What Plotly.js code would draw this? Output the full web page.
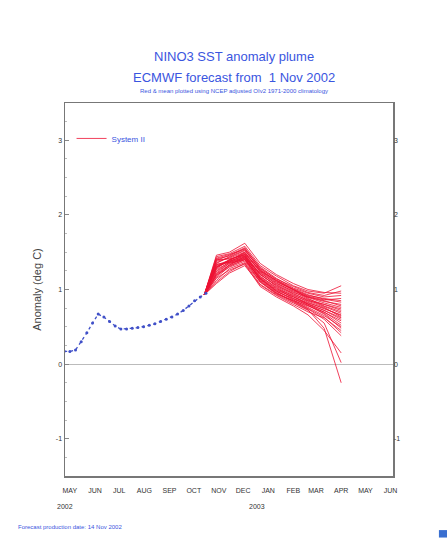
<!DOCTYPE html>
<html>
<head>
<meta charset="utf-8">
<script src="https://cdn.plot.ly/plotly-3.0.1.min.js"></script>
<style>
html,body{margin:0;padding:0;background:#fff;}
#chart{width:447px;height:538px;}
</style>
</head>
<body>
<div id="chart"></div>
<script>
// Observed anomalies (weekly), deg C
const obsDates = ['2002-05-08','2002-05-15','2002-05-22','2002-05-29','2002-06-05','2002-06-12','2002-06-19','2002-06-26',
  '2002-07-03','2002-07-10','2002-07-17','2002-07-24','2002-07-31','2002-08-07','2002-08-14','2002-08-21','2002-08-28',
  '2002-09-04','2002-09-11','2002-09-18','2002-09-25','2002-10-02','2002-10-09','2002-10-16','2002-10-23','2002-10-30'];
const obsValues = [0.17,0.17,0.19,0.30,0.42,0.55,0.67,0.63,
  0.57,0.51,0.47,0.47,0.48,0.49,0.50,0.52,0.54,
  0.57,0.60,0.63,0.67,0.72,0.78,0.85,0.90,0.95];

// Forecast plume (System II members)
const fcStartDate = '2002-10-28';
const fcStartValue = 0.93;
const fcDates = ['2002-11-12','2002-11-28','2002-12-17','2003-01-05','2003-01-25','2003-02-15','2003-03-05','2003-03-25','2003-04-15'];
const member01 = [1.30,1.38,1.45,1.20,1.05,0.95,0.85,0.80,0.72];
const member02 = [1.22,1.35,1.40,1.15,1.00,0.90,0.82,0.75,0.65];
const member03 = [1.38,1.42,1.50,1.25,1.10,1.00,0.92,0.88,0.85];
const member04 = [1.12,1.28,1.36,1.10,0.95,0.85,0.78,0.70,0.55];
const member05 = [1.44,1.48,1.58,1.32,1.18,1.05,0.98,0.95,1.05];
const member06 = [1.28,1.40,1.47,1.18,1.02,0.88,0.80,0.72,0.60];
const member07 = [1.34,1.36,1.42,1.22,1.08,0.98,0.90,0.85,0.78];
const member08 = [1.08,1.22,1.32,1.06,0.92,0.80,0.70,0.62,0.45];
const member09 = [1.41,1.45,1.55,1.30,1.15,1.02,0.95,0.90,0.92];
const member10 = [1.18,1.33,1.44,1.15,0.98,0.86,0.76,0.65,0.50];
const member11 = [1.30,1.40,1.48,1.25,1.12,1.00,0.88,0.78,0.70];
const member12 = [1.25,1.37,1.43,1.12,0.96,0.84,0.74,0.60,0.38];
const member13 = [1.36,1.43,1.52,1.28,1.14,1.04,0.96,0.92,0.98];
const member14 = [1.20,1.32,1.40,1.14,0.99,0.90,0.80,0.70,0.58];
const member15 = [1.40,1.41,1.46,1.20,1.06,0.94,0.86,0.78,0.68];
const member16 = [1.15,1.26,1.34,1.04,0.90,0.78,0.66,0.45,0.15];
const member17 = [1.29,1.39,1.50,1.24,1.09,0.97,0.87,0.80,0.74];
const member18 = [1.32,1.38,1.45,1.16,1.01,0.92,0.84,0.76,0.63];
const member19 = [1.46,1.50,1.62,1.35,1.20,1.08,1.00,0.96,0.95];
const member20 = [1.24,1.35,1.41,1.13,0.97,0.88,0.78,0.68,0.52];
const member21 = [1.35,1.44,1.53,1.27,1.11,0.99,0.90,0.84,0.80];
const member22 = [1.10,1.24,1.35,1.07,0.93,0.82,0.72,0.55,0.02];
const member23 = [1.31,1.37,1.47,1.21,1.04,0.93,0.83,0.74,0.66];
const member24 = [1.19,1.30,1.38,1.11,0.95,0.83,0.73,0.48,-0.25];
const member25 = [1.39,1.46,1.56,1.29,1.13,1.01,0.93,0.87,0.83];
const member26 = [1.27,1.36,1.44,1.17,1.03,0.91,0.81,0.72,0.62];
const member27 = [1.33,1.39,1.49,1.23,1.07,0.96,0.89,0.82,0.76];
const member28 = [1.21,1.33,1.42,1.14,0.98,0.87,0.79,0.67,0.48];
const member29 = [1.42,1.47,1.54,1.26,1.12,1.00,0.91,0.86,0.88];
const member30 = [1.16,1.31,1.40,1.10,0.94,0.85,0.75,0.63,0.42];
const members = [member01,member02,member03,member04,member05,member06,member07,member08,member09,member10,
  member11,member12,member13,member14,member15,member16,member17,member18,member19,member20,
  member21,member22,member23,member24,member25,member26,member27,member28,member29,member30];

// Axis labels
const monthTickDates = ['2002-05-15','2002-06-15','2002-07-15','2002-08-15','2002-09-15','2002-10-15','2002-11-15',
  '2002-12-15','2003-01-15','2003-02-15','2003-03-15','2003-04-15','2003-05-15','2003-06-15'];
const monthTickText = ['MAY','JUN','JUL','AUG','SEP','OCT','NOV','DEC','JAN','FEB','MAR','APR','MAY','JUN'];
const yearLabels = ['2002','2003'];
const yearDates = ['2002-05-09','2003-01-01'];
const yTicks = [-1,0,1,2,3];

const red = '#ee1133';
const blue = '#4050c8';
const titleBlue = '#3a55e0';

const traces = [];
members.forEach((m, i) => {
  traces.push({
    type: 'scatter', mode: 'lines',
    x: [fcStartDate].concat(fcDates),
    y: [fcStartValue].concat(m),
    line: {color: red, width: 1},
    opacity: 0.8,
    name: 'System II',
    showlegend: i === 0,
    hoverinfo: 'skip'
  });
});
traces.push({
  type: 'scatter', mode: 'lines+markers',
  x: obsDates, y: obsValues,
  line: {color: blue, width: 1.3, dash: 'dot'},
  marker: {color: blue, size: 3},
  showlegend: false
});
// right-hand axis labels
traces.push({type: 'scatter', x: [], y: [], yaxis: 'y2', showlegend: false});

const layout = {
  width: 447, height: 538,
  margin: {l: 65, r: 54, t: 103, b: 62},
  paper_bgcolor: '#fff', plot_bgcolor: '#fff',
  font: {family: 'Liberation Sans, Arial, sans-serif', color: '#222'},
  showlegend: true,
  legend: {x: 0.02, y: 0.905, xanchor: 'left', yanchor: 'middle',
    font: {size: 8, color: titleBlue}, bgcolor: 'rgba(0,0,0,0)'},
  xaxis: {
    type: 'date',
    range: ['2002-05-09', '2003-06-18'],
    tickmode: 'array', tickvals: monthTickDates, ticktext: monthTickText,
    tickfont: {size: 7, color: '#333'}, ticks: '', ticklabelstandoff: 7,
    showgrid: false, zeroline: false,
    showline: true, linecolor: '#777', linewidth: 1.5, mirror: true,
    fixedrange: true
  },
  yaxis: {
    range: [-1.5, 3.5],
    tickmode: 'array', tickvals: yTicks, ticktext: yTicks.map(String),
    tickfont: {size: 7, color: '#333'},
    ticks: 'inside', ticklen: 4, tickcolor: '#888',
    minor: {dtick: 0.25, ticks: 'inside', ticklen: 2, tickcolor: '#bbb'},
    showgrid: false, zeroline: true, zerolinecolor: '#bbb', zerolinewidth: 1,
    showline: true, linecolor: '#777', linewidth: 1.5, mirror: true,
    title: {text: 'Anomaly (deg C)', font: {size: 11, color: '#444'}, standoff: 12},
    fixedrange: true
  },
  yaxis2: {
    overlaying: 'y', side: 'right', range: [-1.5, 3.5],
    tickmode: 'array', tickvals: yTicks, ticktext: yTicks.map(String),
    tickfont: {size: 7, color: '#333'}, showgrid: false, zeroline: false, showline: false
  },
  annotations: [
    {xref: 'paper', yref: 'paper', x: 0.515, y: 1, yshift: 56, text: 'NINO3 SST anomaly plume',
      showarrow: false, font: {size: 13, color: titleBlue}},
    {xref: 'paper', yref: 'paper', x: 0.515, y: 1, yshift: 35, text: 'ECMWF forecast from  1 Nov 2002',
      showarrow: false, font: {size: 13, color: titleBlue}},
    {xref: 'paper', yref: 'paper', x: 0.515, y: 1, yshift: 17, text: 'Red & mean plotted using NCEP adjusted OIv2 1971-2000 climatology',
      showarrow: false, font: {size: 6, color: titleBlue}},
    {xref: 'x', yref: 'paper', x: yearDates[0], y: 0, yshift: -36, text: yearLabels[0], showarrow: false,
      font: {size: 7, color: '#333'}},
    {xref: 'x', yref: 'paper', x: yearDates[1], y: 0, yshift: -36, text: yearLabels[1], showarrow: false,
      font: {size: 7, color: '#333'}},
    {xref: 'paper', yref: 'paper', x: -0.15, xanchor: 'left', y: 0, yshift: -56, text: 'Forecast production date: 14 Nov 2002',
      showarrow: false, font: {size: 6, color: titleBlue}}
  ],
  shapes: [
    {type: 'rect', xref: 'paper', yref: 'paper', x0: 1.14, x1: 1.2, y0: -0.165, y1: -0.145,
      fillcolor: '#3a6fd0', line: {width: 0}}
  ]
};

Plotly.newPlot('chart', traces, layout, {displayModeBar: false, staticPlot: true});
</script>
</body>
</html>
